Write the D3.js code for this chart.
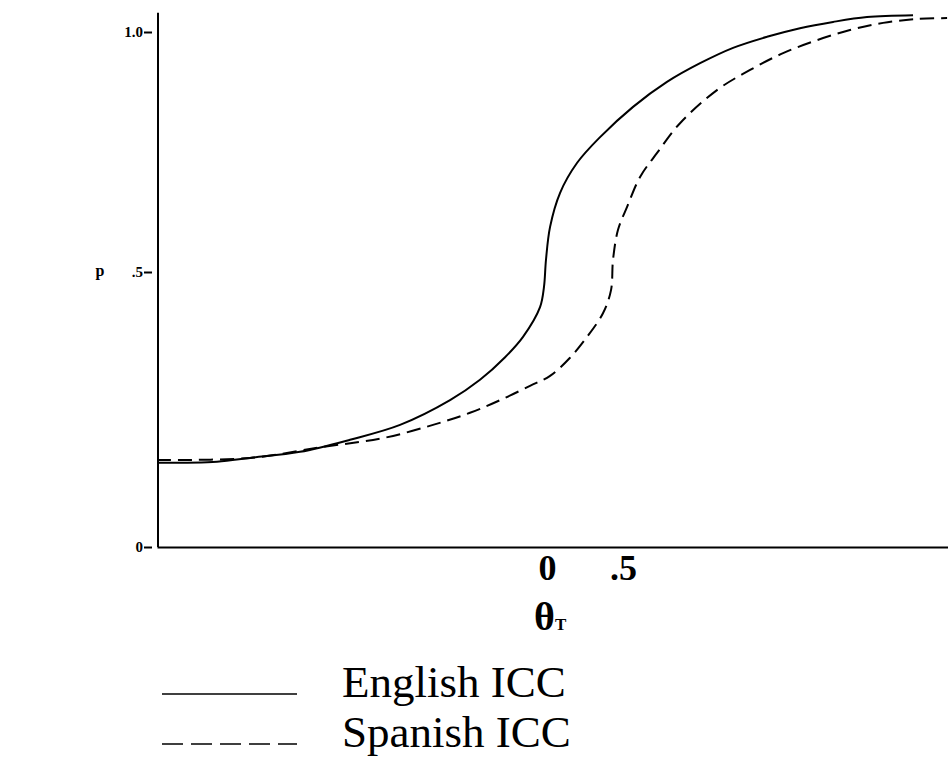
<!DOCTYPE html>
<html>
<head>
<meta charset="utf-8">
<script src="https://cdn.jsdelivr.net/npm/d3@7/dist/d3.min.js"></script>
<style>
  body { margin: 0; background: #fff; }
  svg { display: block; }
</style>
</head>
<body>
<svg width="948" height="758"></svg>
<script>
// theta values and probabilities
var englishTheta = [-2.566, -2.171, -1.954, -1.625, -1.296, -0.967, -0.638, -0.441, -0.276, -0.158, -0.046, -0.020, -0.007, 0.020, 0.086, 0.197, 0.349, 0.566, 0.789, 1.007, 1.224, 1.447, 1.664, 1.882, 2.105, 2.408];
var englishP = [0.153, 0.155, 0.162, 0.173, 0.195, 0.222, 0.267, 0.304, 0.345, 0.382, 0.436, 0.473, 0.525, 0.594, 0.665, 0.727, 0.781, 0.844, 0.896, 0.935, 0.967, 0.990, 1.008, 1.021, 1.031, 1.035];
var spanishTheta = [-2.566, -1.954, -1.474, -1.079, -0.750, -0.507, -0.309, -0.112, 0.020, 0.151, 0.263, 0.368, 0.421, 0.434, 0.467, 0.526, 0.612, 0.724, 0.875, 1.118, 1.336, 1.553, 1.776, 1.993, 2.211, 2.434, 2.632];
var spanishP = [0.158, 0.162, 0.182, 0.198, 0.222, 0.244, 0.267, 0.293, 0.311, 0.344, 0.382, 0.425, 0.467, 0.525, 0.588, 0.635, 0.698, 0.748, 0.810, 0.879, 0.921, 0.956, 0.983, 1.004, 1.019, 1.027, 1.029];

var seriesNames = ["English ICC", "Spanish ICC"];
var xTicks = [0, 0.5];
var xTickLabels = ["0", ".5"];
var yTicks = [0, 0.5, 1.0];
var yTickLabels = ["0", ".5", "1.0"];

var svg = d3.select("svg");

// the scanned axis is not evenly spaced, so y uses a piecewise domain
var x = d3.scaleLinear().domain([-2.566, 2.638]).range([157, 948]);
var y = d3.scaleLinear().domain([0, 0.5, 1]).range([547, 272, 32]);

var line = d3.line()
    .curve(d3.curveCatmullRom.alpha(0.5))
    .x(function (d) { return x(d[0]); })
    .y(function (d) { return y(d[1]); });

var english = d3.zip(englishTheta, englishP);
var spanish = d3.zip(spanishTheta, spanishP);

// y axis
svg.append("line")
    .attr("x1", x(-2.566) + 1).attr("x2", x(-2.566) + 1)
    .attr("y1", y(0)).attr("y2", y(1.04))
    .attr("stroke", "#000").attr("stroke-width", 2);

var yAxis = svg.append("g")
    .attr("transform", "translate(152,0)")
    .call(d3.axisLeft(y)
        .tickValues(yTicks)
        .tickSize(8)
        .tickPadding(1)
        .tickFormat(function (d, i) { return yTickLabels[i]; }));
yAxis.select(".domain").remove();
yAxis.selectAll("line").attr("stroke", "#000").attr("stroke-width", 2);
yAxis.selectAll("text")
    .attr("fill", "#000")
    .style("font", "bold 15px 'Liberation Serif', serif");

// x axis
var xAxis = svg.append("g")
    .attr("transform", "translate(0," + y(0) + ")")
    .call(d3.axisBottom(x)
        .tickValues(xTicks)
        .tickSize(0)
        .tickSizeOuter(0)
        .tickPadding(7)
        .tickFormat(function (d, i) { return xTickLabels[i]; }));
xAxis.select(".domain").attr("stroke", "#000").attr("stroke-width", 2);
xAxis.selectAll("text")
    .attr("fill", "#000")
    .style("font", "bold 36px 'Liberation Serif', serif");

// axis titles
var xTitle = svg.append("text")
    .attr("x", 534)
    .attr("y", 630)
    .style("font", "bold 40px 'Liberation Serif', serif")
    .attr("fill", "#000");
xTitle.append("tspan").text("θ");
xTitle.append("tspan").style("font-size", "17px").text("T");

svg.append("text")
    .attr("x", 100)
    .attr("y", 276)
    .attr("text-anchor", "middle")
    .style("font", "bold 16px 'Liberation Serif', serif")
    .attr("fill", "#000")
    .text("p");

// curves
svg.append("path")
    .datum(english)
    .attr("d", line)
    .attr("fill", "none")
    .attr("stroke", "#000")
    .attr("stroke-width", 2);

svg.append("path")
    .datum(spanish)
    .attr("d", line)
    .attr("fill", "none")
    .attr("stroke", "#000")
    .attr("stroke-width", 2)
    .attr("stroke-dasharray", "14,7");

// legend
var legend = svg.selectAll(".legend")
    .data(seriesNames)
    .enter().append("g")
    .attr("class", "legend")
    .attr("transform", function (d, i) { return "translate(0," + (i * 50) + ")"; });

legend.append("line")
    .attr("x1", 162).attr("x2", 297)
    .attr("y1", 694).attr("y2", 694)
    .attr("stroke", "#000")
    .attr("stroke-width", 1.5)
    .attr("stroke-dasharray", function (d, i) { return i ? "21,8" : null; });

legend.append("text")
    .attr("x", 342)
    .attr("y", 697)
    .style("font", "45px 'Liberation Serif', serif")
    .attr("fill", "#000")
    .text(function (d) { return d; });
</script>
</body>
</html>
